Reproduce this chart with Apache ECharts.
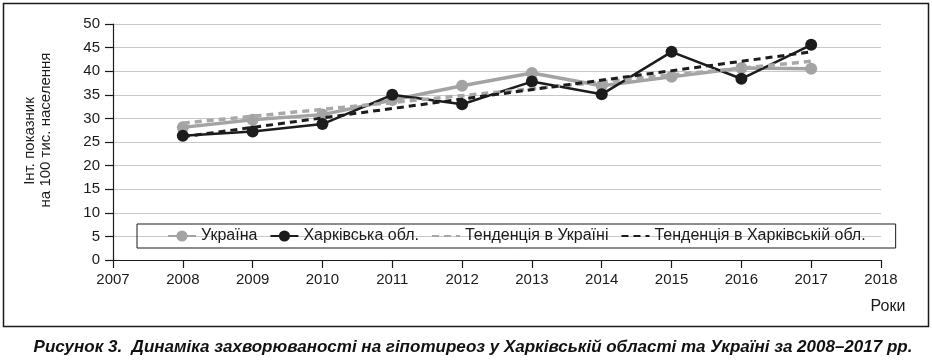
<!DOCTYPE html>
<html>
<head>
<meta charset="utf-8">
<script src="https://cdn.jsdelivr.net/npm/echarts@6/dist/echarts.min.js"></script>
<style>
html,body{margin:0;padding:0;background:#fff;}
#chart{width:932px;height:364px;}
</style>
</head>
<body>
<div id="chart"></div>
<script>
const years = [2008, 2009, 2010, 2011, 2012, 2013, 2014, 2015, 2016, 2017];
const ukraine = [28.1, 29.7, 30.8, 33.9, 36.9, 39.6, 36.9, 38.8, 40.7, 40.5];
const kharkiv = [26.3, 27.2, 28.8, 35.0, 33.0, 37.8, 35.1, 44.1, 38.4, 45.6];
const trendYears = [2008, 2017];
const trendUkraine = [29.0, 42.1];
const trendKharkiv = [26.1, 44.1];
const seriesNames = ['Україна', 'Харківська обл.', 'Тенденція в Україні', 'Тенденція в Харківській обл.'];
const yTitle = ['Інт. показник', 'на 100 тис. населення'];
const xTitle = 'Роки';
const caption = 'Рисунок 3.  Динаміка захворюваності на гіпотиреоз у Харківській області та Україні за 2008–2017 рр.';

const pairs = (xs, ys) => xs.map((x, i) => [x, ys[i]]);
const FONT = '"Liberation Sans", Arial, sans-serif';

const chart = echarts.init(document.getElementById('chart'), null, {renderer: 'canvas'});
chart.setOption({
  animation: false,
  backgroundColor: '#fff',
  textStyle: {fontFamily: FONT},
  grid: {left: 113, right: 51, top: 24, bottom: 104, containLabel: false},
  legend: {
    left: 137, top: 224,
    padding: [4, 30, 4, 30],
    itemGap: 12,
    itemWidth: 28, itemHeight: 14,
    borderColor: '#1a1a1a', borderWidth: 1,
    textStyle: {fontFamily: FONT, fontSize: 16, color: '#1a1a1a'},
    data: [
      {name: seriesNames[0]},
      {name: seriesNames[1]},
      {name: seriesNames[2], itemStyle: {opacity: 0}},
      {name: seriesNames[3], itemStyle: {opacity: 0}}
    ]
  },
  xAxis: {
    type: 'value', min: 2007, max: 2018, interval: 1,
    axisLine: {show: true, lineStyle: {color: '#1a1a1a', width: 1.2}},
    axisTick: {show: true, length: 8, lineStyle: {color: '#1a1a1a', width: 1.2}},
    axisLabel: {margin: 12, fontSize: 15, color: '#1a1a1a', fontFamily: FONT, formatter: v => String(v)},
    splitLine: {show: false}
  },
  yAxis: {
    type: 'value', min: 0, max: 50, interval: 5,
    axisLine: {show: true, lineStyle: {color: '#1a1a1a', width: 1.2}},
    axisTick: {show: true, length: 8, lineStyle: {color: '#1a1a1a', width: 1.2}},
    axisLabel: {margin: 13, fontSize: 15, color: '#1a1a1a', fontFamily: FONT},
    splitLine: {show: true, lineStyle: {color: '#c8c8c8', width: 1}}
  },
  series: [
    {
      name: seriesNames[0], type: 'line', data: pairs(years, ukraine),
      symbol: 'circle', symbolSize: 12,
      itemStyle: {color: '#a3a3a3'},
      lineStyle: {color: '#a3a3a3', width: 3.5}, z: 2
    },
    {
      name: seriesNames[1], type: 'line', data: pairs(years, kharkiv),
      symbol: 'circle', symbolSize: 12,
      itemStyle: {color: '#1c1c1c'},
      lineStyle: {color: '#1c1c1c', width: 2.5}, z: 3
    },
    {
      name: seriesNames[2], type: 'line', data: pairs(trendYears, trendUkraine),
      symbol: 'none', itemStyle: {color: '#a8a8a8'},
      lineStyle: {color: '#a8a8a8', width: 3.5, type: [7, 5]}, z: 4
    },
    {
      name: seriesNames[3], type: 'line', data: pairs(trendYears, trendKharkiv),
      symbol: 'none', itemStyle: {color: '#1c1c1c'},
      lineStyle: {color: '#1c1c1c', width: 3, type: [7, 5]}, z: 5
    }
  ],
  graphic: [
    {type: 'rect', shape: {x: 3.5, y: 3.5, width: 925, height: 323}, style: {fill: 'none', stroke: '#1a1a1a', lineWidth: 1.5}, z: 0, silent: true},
    {type: 'text', x: 30, y: 141, rotation: Math.PI / 2, style: {text: yTitle[0], font: '15px ' + FONT, fill: '#1a1a1a', align: 'center', verticalAlign: 'middle'}},
    {type: 'text', x: 46, y: 130, rotation: Math.PI / 2, style: {text: yTitle[1], font: '15px ' + FONT, fill: '#1a1a1a', align: 'center', verticalAlign: 'middle'}},
    {type: 'text', x: 888, y: 307, style: {text: xTitle, font: '16px ' + FONT, fill: '#1a1a1a', align: 'center', verticalAlign: 'middle'}},
    {type: 'text', x: 473, y: 347, style: {text: caption, font: 'italic bold 17px ' + FONT, fill: '#111', align: 'center', verticalAlign: 'middle'}}
  ]
});
</script>
</body>
</html>
